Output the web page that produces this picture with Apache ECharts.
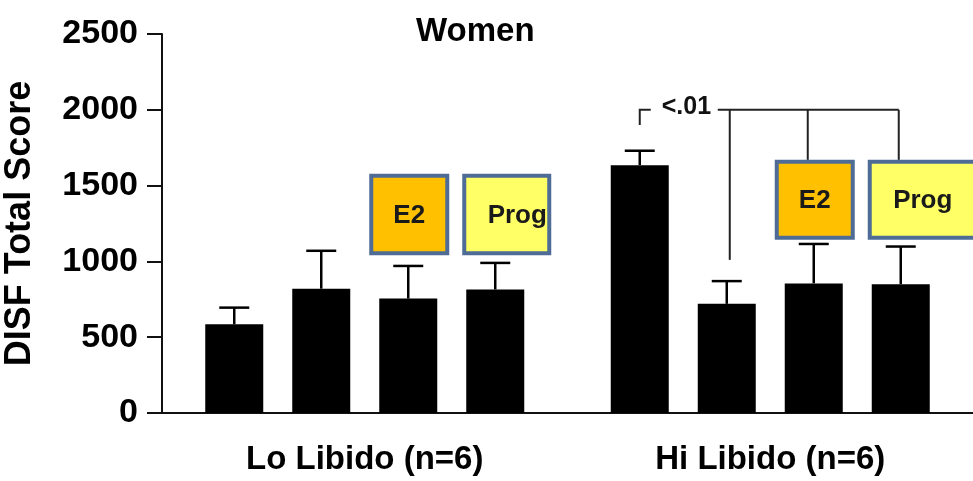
<!DOCTYPE html>
<html>
<head>
<meta charset="utf-8">
<style>
  html, body { margin: 0; padding: 0; background: #fff; }
  #chart { width: 973px; height: 481px; }
</style>
<script src="https://cdn.jsdelivr.net/npm/echarts@6/dist/echarts.min.js"></script>
</head>
<body>
<div id="chart"></div>
<script>
// DISF total score by libido group and condition (mean + SEM)
const categories = ['Lo Libido (n=6)', 'Hi Libido (n=6)'];
const conditionNames = ['Baseline', 'Placebo', 'E2', 'Prog'];

const baselineScores = [585, 1635];
const placeboScores  = [820, 720];
const e2Scores       = [755, 855];
const progScores     = [815, 850];

const baselineSem = [110, 95];
const placeboSem  = [250, 150];
const e2Sem       = [215, 260];
const progSem     = [175, 248];

const yAxisTitle = 'DISF Total Score';
const chartTitle = 'Women';
const pValueText = '<.01';

const FONT = '"Liberation Sans", Arial, Helvetica, sans-serif';
const BAR_WIDTH = 58;
const SLOT_STEP = 87;          // bar width + 50% gap

const meanSets = [baselineScores, placeboScores, e2Scores, progScores];
const semSets = [baselineSem, placeboSem, e2Sem, progSem];

// x pixel of a bar centre, from the category centre and the slot index
function slotX(api, cat, slot) {
  return api.coord([cat, 0])[0] + (slot - 1.5) * SLOT_STEP;
}

const barSeries = conditionNames.map((name, i) => ({
  name: name,
  type: 'bar',
  data: meanSets[i],
  barWidth: BAR_WIDTH,
  barGap: '50%',
  itemStyle: { color: '#000' },
  z: 2
}));

const errorData = [];
semSets.forEach((sem, slot) => {
  sem.forEach((e, cat) => errorData.push([cat, slot, meanSets[slot][cat], e]));
});

const errorSeries = {
  type: 'custom',
  z: 3,
  encode: { x: 0, y: 2 },
  data: errorData,
  renderItem: function (params, api) {
    const cat = api.value(0), slot = api.value(1);
    const v = api.value(2), e = api.value(3);
    const x = slotX(api, cat, slot);
    const y0 = api.coord([cat, v])[1];
    const y1 = api.coord([cat, v + e])[1];
    const st = { stroke: '#000', lineWidth: 2.5 };
    return {
      type: 'group',
      children: [
        { type: 'line', shape: { x1: x, y1: y0, x2: x, y2: y1 }, style: st },
        { type: 'line', shape: { x1: x - 15, y1: y1, x2: x + 15, y2: y1 }, style: st }
      ]
    };
  }
};

// treatment tags above the E2 and Prog bars
const tagStyle = {
  E2:   { fill: '#FFC000', left: -39, width: 80, textAt: 40 },
  Prog: { fill: '#FFFF66', left: -33, width: 89, textAt: 55 }
};
const tagRange = [[1040, 1578], [1142, 1670]];   // value span of tags per group

const tagSeries = {
  type: 'custom',
  z: 4,
  encode: { x: 0, y: 1 },
  data: [[0, 2], [0, 3], [1, 2], [1, 3]],
  renderItem: function (params, api) {
    const cat = api.value(0), slot = api.value(1);
    const name = conditionNames[slot];
    const s = tagStyle[name];
    const cx = slotX(api, cat, slot);
    const yTop = api.coord([cat, tagRange[cat][1]])[1];
    const yBot = api.coord([cat, tagRange[cat][0]])[1];
    const w = (cat === 1 && name === 'Prog') ? 125 : s.width;
    const x = cx + s.left;
    return {
      type: 'group',
      children: [
        {
          type: 'rect',
          shape: { x: x + 2, y: yTop + 2, width: w - 4, height: yBot - yTop - 4 },
          style: { fill: s.fill, stroke: '#4F6C96', lineWidth: 4 }
        },
        {
          type: 'text',
          style: {
            text: name,
            x: x + s.textAt,
            y: (yTop + yBot) / 2 + 1,
            align: 'center',
            verticalAlign: 'middle',
            font: 'bold 26px ' + FONT,
            fill: '#1a1a1a'
          }
        }
      ]
    };
  }
};

// significance bracket over the Hi Libido group
const bracketSeries = {
  type: 'custom',
  z: 5,
  encode: { x: 0, y: 1 },
  data: [[1, 2000]],
  renderItem: function (params, api) {
    const cat = api.value(0), yv = api.value(1);
    const yLine = api.coord([cat, yv])[1];
    const x0 = slotX(api, cat, 0);
    const x1 = slotX(api, cat, 1);
    const x2 = slotX(api, cat, 2) - 6;
    const x3 = slotX(api, cat, 3) - 2;
    const yCorner = api.coord([cat, 1900])[1];
    const yDrop1 = api.coord([cat, 1010])[1];
    const yDropTag = api.coord([cat, tagRange[1][1]])[1];
    const st = { stroke: '#222', lineWidth: 2 };
    return {
      type: 'group',
      children: [
        { type: 'polyline', shape: { points: [[x0, yCorner], [x0, yLine], [x0 + 11, yLine]] }, style: Object.assign({ fill: 'none' }, st) },
        { type: 'line', shape: { x1: x0 + 78, y1: yLine, x2: x3, y2: yLine }, style: st },
        { type: 'line', shape: { x1: x1 + 3, y1: yLine, x2: x1 + 3, y2: yDrop1 }, style: st },
        { type: 'line', shape: { x1: x2, y1: yLine, x2: x2, y2: yDropTag }, style: st },
        { type: 'line', shape: { x1: x3, y1: yLine, x2: x3, y2: yDropTag }, style: st },
        {
          type: 'text',
          style: {
            text: pValueText,
            x: x0 + 22,
            y: yLine - 3,
            align: 'left',
            verticalAlign: 'middle',
            font: 'bold 25px ' + FONT,
            fill: '#111'
          }
        }
      ]
    };
  }
};

const chart = echarts.init(document.getElementById('chart'), null, { renderer: 'canvas' });
chart.setOption({
  animation: false,
  backgroundColor: '#fff',
  title: {
    text: chartTitle,
    left: 411,
    top: 10,
    textStyle: { fontFamily: FONT, fontWeight: 'bold', fontSize: 33, color: '#000' }
  },
  grid: {
    left: 162, right: 0, top: 34, bottom: 68,
    containLabel: false,
    outerBoundsMode: 'none'
  },
  xAxis: {
    type: 'category',
    data: categories,
    axisLine: { lineStyle: { color: '#111', width: 2 } },
    axisTick: { alignWithLabel: true, length: 12, lineStyle: { color: '#111', width: 2 } },
    axisLabel: { fontFamily: FONT, fontWeight: 'bold', fontSize: 33, color: '#000', margin: 30 },
    splitLine: { show: false }
  },
  yAxis: {
    type: 'value',
    min: 0,
    max: 2500,
    interval: 500,
    name: yAxisTitle,
    nameLocation: 'middle',
    nameGap: 124,
    nameRotate: 90,
    nameTextStyle: { fontFamily: FONT, fontWeight: 'bold', fontSize: 36, color: '#000' },
    axisLine: { show: true, lineStyle: { color: '#111', width: 2 } },
    axisTick: { show: true, length: 15, lineStyle: { color: '#111', width: 2 } },
    axisLabel: {
      fontFamily: FONT, fontWeight: 'bold', fontSize: 34, color: '#000', margin: 24,
      formatter: function (v) { return String(v); }
    },
    splitLine: { show: false }
  },
  series: barSeries.concat([errorSeries, tagSeries, bracketSeries])
});
</script>
</body>
</html>
